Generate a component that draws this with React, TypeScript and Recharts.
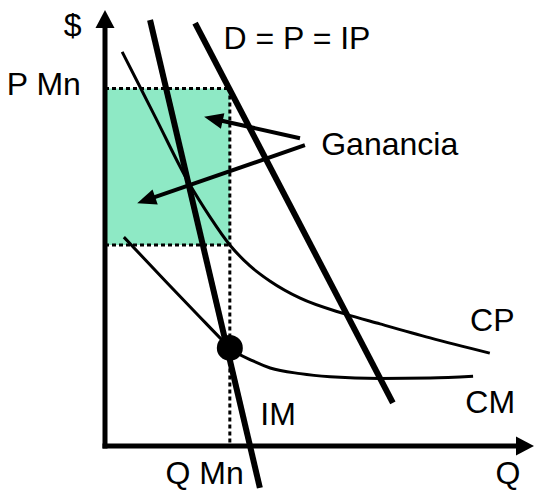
import React from 'react';
import { LineChart, Line, XAxis, YAxis, ReferenceArea, ReferenceLine, ReferenceDot } from 'recharts';

// Curves (Q, value)
const cpQ = [4.0, 11.7, 19.4, 24.5, 29.1, 33.8, 38.5, 45.5, 55.9, 64.1, 75.8, 89.7];
const cpV = [90.4, 75.5, 60.6, 52.5, 46.1, 41.3, 37.8, 33.9, 30.3, 28.0, 24.8, 21.3];
const cmQ = [4.4, 14.5, 22.1, 26.8, 29.1, 34.5, 38.5, 45.5, 52.5, 64.1, 75.8, 85.8];
const cmV = [47.9, 37.4, 29.6, 24.8, 22.5, 19.5, 17.9, 16.6, 15.9, 15.5, 15.6, 16.0];

// Straight lines (ends)
const imQ = [10.5, 36.1];
const imP = [97.7, -9.6];
const dQ = [21.0, 67.1];
const dP = [97.0, 9.9];

// Monopoly equilibrium
const qMn = 29.1;
const pMn = 82;
const cpAtQMn = 46.1;
const cmAtQMn = 22.5;

// "Ganancia" pointer arrows: [fromQ, fromP, toQ, toP]
const gainArrows = [
  [45.45, 70.6, 23.1, 75.5],
  [46.6, 69.0, 7.5, 55.7],
];

const cpData = cpQ.map((q, i) => ({ q, v: cpV[i] }));
const cmData = cmQ.map((q, i) => ({ q, v: cmV[i] }));

const FONT = 'Liberation Sans, Arial, sans-serif';
const FS = 32;

function makeArrow(L: number, W: number, sw: number, cap: 'butt' | 'square') {
  return (p: any) => {
    const { x1, y1, x2, y2 } = p;
    const dx = x2 - x1;
    const dy = y2 - y1;
    const len = Math.hypot(dx, dy) || 1;
    const ux = dx / len;
    const uy = dy / len;
    const bx = x2 - ux * L;
    const by = y2 - uy * L;
    const px = -uy;
    const py = ux;
    const pts = `${x2},${y2} ${bx + (px * W) / 2},${by + (py * W) / 2} ${bx - (px * W) / 2},${by - (py * W) / 2}`;
    return (
      <g>
        <line x1={x1} y1={y1} x2={bx + ux * 2} y2={by + uy * 2} stroke="#000" strokeWidth={sw} strokeLinecap={cap} />
        <polygon points={pts} fill="#000" />
      </g>
    );
  };
}

const axisArrow = makeArrow(18, 19, 5, 'square');
const gainArrow = makeArrow(19, 16, 4, 'butt');

function textShape(label: string) {
  return (p: any) => (
    <text x={p.cx} y={p.cy} fontFamily={FONT} fontSize={FS} fill="#000" textAnchor="start">
      {label}
    </text>
  );
}

const labels: [string, number, number][] = [
  ['$', -9.6, 94.0],
  ['P Mn', -22.9, 80.5],
  ['D = P = IP', 27.6, 91.1],
  ['Ganancia', 50.4, 66.7],
  ['CP', 85.1, 26.4],
  ['CM', 84.0, 7.6],
  ['IM', 36.2, 4.8],
  ['Q Mn', 14.1, -8.7],
  ['Q', 91.0, -8.7],
];

export default function App() {
  return (
    <div style={{ position: 'absolute', left: 0, top: 0, width: 534, height: 491 }}>
      <LineChart width={534} height={491} margin={{ top: 10, right: 0, bottom: 45, left: 105 }}>
        <XAxis type="number" dataKey="q" domain={[0, 100]} hide allowDataOverflow />
        <YAxis type="number" domain={[0, 100]} hide allowDataOverflow />
        <ReferenceArea x1={0} x2={qMn} y1={cpAtQMn} y2={pMn} fill="#8EE9C5" fillOpacity={1} stroke="none" ifOverflow="visible" />
        <ReferenceLine segment={[{ x: 0, y: pMn }, { x: qMn, y: pMn }]} stroke="#000" strokeWidth={3} strokeDasharray="4 3" ifOverflow="visible" />
        <ReferenceLine segment={[{ x: 0, y: cpAtQMn }, { x: qMn, y: cpAtQMn }]} stroke="#000" strokeWidth={3} strokeDasharray="4 3" ifOverflow="visible" />
        <ReferenceLine segment={[{ x: qMn, y: pMn }, { x: qMn, y: 0 }]} stroke="#000" strokeWidth={3} strokeDasharray="4 3" ifOverflow="visible" />
        <Line data={cpData} dataKey="v" type="monotone" stroke="#000" strokeWidth={3} dot={false} isAnimationActive={false} />
        <Line data={cmData} dataKey="v" type="monotone" stroke="#000" strokeWidth={3} dot={false} isAnimationActive={false} />
        <ReferenceLine segment={[{ x: imQ[0], y: imP[0] }, { x: imQ[1], y: imP[1] }]} stroke="#000" strokeWidth={6} ifOverflow="visible" />
        <ReferenceLine segment={[{ x: dQ[0], y: dP[0] }, { x: dQ[1], y: dP[1] }]} stroke="#000" strokeWidth={6} ifOverflow="visible" />
        <ReferenceDot x={qMn} y={cmAtQMn} r={13} fill="#000" stroke="none" ifOverflow="visible" />
        {gainArrows.map((a, i) => (
          <ReferenceLine key={'g' + i} segment={[{ x: a[0], y: a[1] }, { x: a[2], y: a[3] }]} ifOverflow="visible" shape={gainArrow} />
        ))}
        <ReferenceLine segment={[{ x: 0, y: 0 }, { x: 0, y: 100 }]} ifOverflow="visible" shape={axisArrow} />
        <ReferenceLine segment={[{ x: 0, y: 0 }, { x: 100, y: 0 }]} ifOverflow="visible" shape={axisArrow} />
        {labels.map(([t, x, y]) => (
          <ReferenceDot key={t} x={x} y={y} r={1} ifOverflow="visible" shape={textShape(t)} />
        ))}
      </LineChart>
    </div>
  );
}
